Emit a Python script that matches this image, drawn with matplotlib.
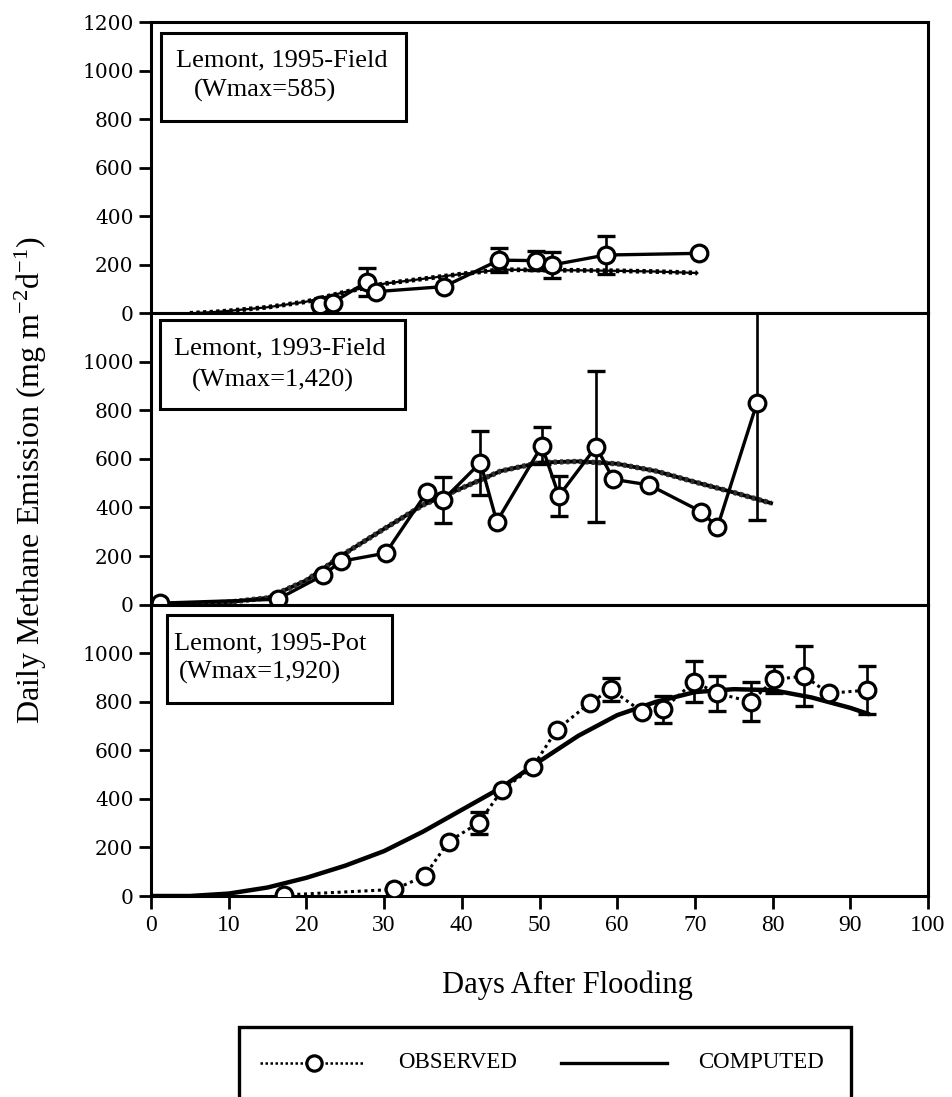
import matplotlib
matplotlib.use("Agg")
import matplotlib.pyplot as plt
from matplotlib.patches import Rectangle
from matplotlib.lines import Line2D

plt.rcParams['font.family'] = ['Liberation Serif', 'DejaVu Serif']
plt.rcParams['mathtext.fontset'] = 'custom'
plt.rcParams['mathtext.rm'] = 'Liberation Serif'
plt.rcParams['mathtext.it'] = 'Liberation Serif:italic'

# ---------------- data ----------------
# Lemont, 1995-Field
field95_obs_days = [21.8, 23.4, 27.8, 28.9, 37.7, 44.8, 49.6, 51.6, 58.5, 70.5]
field95_obs_vals = [34, 44, 130, 89, 110, 219, 217, 199, 240, 247]
field95_obs_err = [0, 0, 58, 0, 0, 50, 40, 55, 78, 0]
field95_calc_days = [5, 8, 10, 15, 20, 25, 30, 35, 40, 45, 50, 55, 60, 65, 70.3]
field95_calc_vals = [0, 5, 10, 25, 48, 88, 122, 142, 162, 180, 178, 177, 175, 172, 166]

# Lemont, 1993-Field
field93_obs_days = [1.2, 16.3, 22.2, 24.4, 30.2, 35.5, 37.6, 42.4, 44.5, 50.3,
                    52.5, 57.3, 59.5, 64.1, 70.8, 72.9, 78.0]
field93_obs_vals = [6, 22, 122, 178, 212, 463, 431, 585, 342, 654,
                    448, 651, 516, 493, 383, 319, 832]
field93_obs_err = [0, 0, 0, 0, 0, 0, 95, 132, 0, 76,
                   83, 312, 0, 0, 0, 0, 485]
field93_calc_days = [0, 5, 10, 15, 20, 25, 30, 35, 40, 45, 50, 55, 60, 65, 70, 75, 79.8]
field93_calc_vals = [0, 2, 10, 28, 100, 212, 312, 410, 480, 550, 585, 590, 580, 550, 505, 462, 418]

# Lemont, 1995-Pot
pot95_obs_days = [17.1, 31.3, 35.2, 38.3, 42.2, 45.2, 49.1, 52.2, 56.5, 59.2,
                  63.2, 65.9, 69.9, 72.9, 77.2, 80.2, 84.1, 87.2, 92.2]
pot95_obs_vals = [4, 27, 82, 224, 302, 437, 530, 684, 796, 851,
                  759, 769, 883, 835, 800, 892, 906, 835, 848]
pot95_obs_err = [0, 0, 0, 0, 45, 0, 0, 0, 0, 48,
                 0, 55, 85, 72, 80, 55, 125, 0, 100]
pot95_calc_days = [0, 5, 10, 15, 20, 25, 30, 35, 40, 45, 50, 55, 60, 65,
                   70, 75, 80, 85, 90, 92.5]
pot95_calc_vals = [0, 0, 10, 35, 75, 125, 185, 265, 355, 445, 555, 660, 745, 800,
                   840, 852, 848, 818, 775, 748]

panel_titles = ["Lemont, 1995-Field", "Lemont, 1993-Field", "Lemont, 1995-Pot"]
panel_wmax = ["(Wmax=585)", "(Wmax=1,420)", "(Wmax=1,920)"]
x_ticks = list(range(0, 101, 10))
y_ticks_top = list(range(0, 1201, 200))
y_ticks_lower = list(range(0, 1001, 200))

# ---------------- layout helpers (pixel based) ----------------
W, H = 952, 1097
fig = plt.figure(figsize=(W / 100, H / 100), dpi=100)


def fx(px):
    return px / W


def fy(py):
    return 1 - py / H


LEFT, RIGHT = 151, 928
PANEL_H = 291.3
TOPS = [22, 313.3, 604.7]

# box geometry per panel: (x0, y0, x1, y1), text line anchors
BOXES = [
    ((161, 33, 406, 121), (175.5, 60), (194, 90)),
    ((160, 320, 405, 409), (174, 348), (192, 380)),
    ((167, 615, 392, 703), (174, 643), (179, 672)),
]

panels = [
    (field95_obs_days, field95_obs_vals, field95_obs_err,
     field95_calc_days, field95_calc_vals, y_ticks_top, 'hatched'),
    (field93_obs_days, field93_obs_vals, field93_obs_err,
     field93_calc_days, field93_calc_vals, y_ticks_lower, 'fuzzy'),
    (pot95_obs_days, pot95_obs_vals, pot95_obs_err,
     pot95_calc_days, pot95_calc_vals, y_ticks_lower, 'solid'),
]

for i, (od, ov, oe, cd, cv, yt, style) in enumerate(panels):
    top = TOPS[i]
    ax = fig.add_axes([fx(LEFT), fy(top + PANEL_H), (RIGHT - LEFT) / W, PANEL_H / H])
    ax.set_xlim(0, 100)
    ax.set_ylim(0, 1200)
    for s in ax.spines.values():
        s.set_linewidth(2.2)
    ax.set_yticks(yt)
    ax.set_yticklabels([str(v) for v in yt], family='DejaVu Serif', fontsize=14.5)
    ax.tick_params(axis='y', direction='out', length=8.5, width=2, pad=4)
    ax.set_xticks(x_ticks)
    if i == 2:
        ax.set_xticklabels([str(v) for v in x_ticks], fontsize=17)
        ax.tick_params(axis='x', direction='out', length=9, width=2, pad=5)
    else:
        ax.tick_params(axis='x', length=0, labelbottom=False)

    # computed curve
    if style == 'hatched':
        ax.plot(cd, cv, color='black', lw=1.6, zorder=2)
        ax.plot(cd, cv, color='black', lw=3.4, linestyle=(0, (0.7, 0.7)), zorder=2)
        obs_ls, obs_lw = '-', 2.4
    elif style == 'fuzzy':
        ax.plot(cd, cv, color='black', lw=2.8, zorder=2)
        ax.plot(cd, cv, color='#303030', lw=3.8, linestyle=(0, (0.6, 0.6)), zorder=2)
        obs_ls, obs_lw = '-', 2.4
    else:
        ax.plot(cd, cv, color='black', lw=3.2, zorder=2, solid_capstyle='butt')
        obs_ls, obs_lw = (0, (1, 1.2)), 2.2

    # observed with error bars where given
    eb_d = [d for d, e in zip(od, oe) if e > 0]
    eb_v = [v for v, e in zip(ov, oe) if e > 0]
    eb_e = [e for e in oe if e > 0]
    ax.errorbar(eb_d, eb_v, yerr=eb_e, fmt='none', ecolor='black',
                elinewidth=1.9, capsize=6.5, capthick=2.4, zorder=3)
    ax.plot(od, ov, color='black', lw=obs_lw, linestyle=obs_ls,
            marker='o', ms=12, mfc='white', mec='black', mew=2.3, zorder=4)

    # site label box
    (bx0, by0, bx1, by1), (l1x, l1y), (l2x, l2y) = BOXES[i]

    def axx(px):
        return (px - LEFT) / (RIGHT - LEFT)

    def axy(py, t=top):
        return 1 - (py - t) / PANEL_H

    ax.add_patch(Rectangle((axx(bx0), axy(by1)), axx(bx1) - axx(bx0), axy(by0) - axy(by1),
                           transform=ax.transAxes, facecolor='white', edgecolor='black',
                           lw=2.2, zorder=6))
    ax.text(axx(l1x), axy(l1y), panel_titles[i], transform=ax.transAxes,
            ha='left', va='center', fontsize=19, zorder=7)
    ax.text(axx(l2x), axy(l2y), panel_wmax[i], transform=ax.transAxes,
            ha='left', va='center', fontsize=19, zorder=7)

# axis titles
fig.text(fx(567), fy(985), "Days After Flooding", ha='center', va='center', fontsize=22)
fig.text(fx(31), fy(480), r"Daily Methane Emission (mg m$^{\mathregular{-2}}$d$^{\mathregular{-1}}$)",
         rotation=90, ha='center', va='center', fontsize=23)

# legend box (runs off the lower edge)
fig.patches.append(Rectangle((fx(239), fy(1130)), fx(851) - fx(239), fy(1027) - fy(1130),
                             transform=fig.transFigure, facecolor='white', edgecolor='black',
                             lw=2.4, clip_on=False))
ly = fy(1063)
fig.lines.append(Line2D([fx(260), fx(365)], [ly, ly], transform=fig.transFigure,
                        color='black', lw=1.8, linestyle=(0, (1, 1))))
fig.lines.append(Line2D([fx(314)], [ly], transform=fig.transFigure, color='black',
                        marker='o', ms=11, mfc='white', mec='black', mew=2.3))
fig.lines.append(Line2D([fx(561), fx(667)], [ly, ly], transform=fig.transFigure,
                        color='black', lw=2.4))
fig.text(fx(398), ly, "OBSERVED", ha='left', va='center', fontsize=16.5)
fig.text(fx(698), ly, "COMPUTED", ha='left', va='center', fontsize=16.5)

fig.savefig("out.png", dpi=100)
